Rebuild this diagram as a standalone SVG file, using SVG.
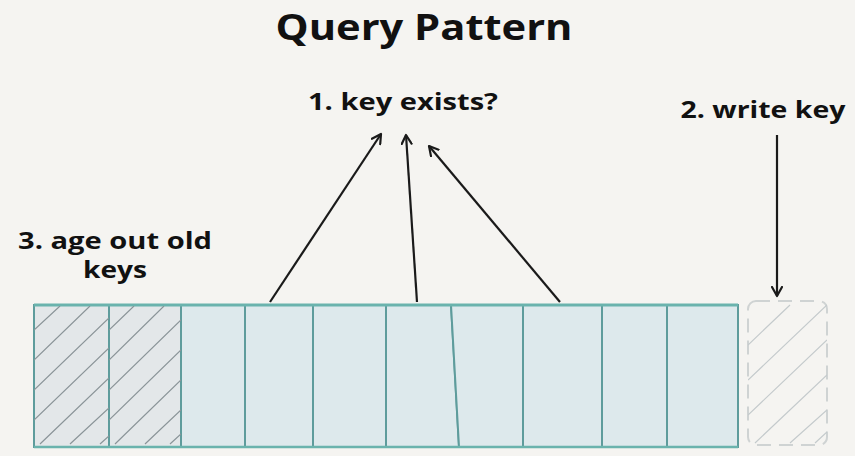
<svg xmlns="http://www.w3.org/2000/svg" width="855" height="456" viewBox="0 0 855 456">
<style>
.t{font-family:"Open Sans","Liberation Sans",sans-serif;font-weight:700;fill:#111}
.cell{fill:#dde9ec;stroke:#5e9c9c;stroke-width:2}
.old{fill:#e3e7e9;stroke:#5e9c9c;stroke-width:2}
.hatch{stroke:#8a9498;stroke-width:1.2;fill:none}
.arr{stroke:#1a1a1a;stroke-width:2.2;fill:none;marker-end:url(#ah)}
</style>
<defs>
<marker id="ah" viewBox="0 0 12 12" refX="10" refY="6" markerWidth="12" markerHeight="12" markerUnits="userSpaceOnUse" orient="auto">
<path d="M1,1 L10,6 L1,11" fill="none" stroke="#1a1a1a" stroke-width="2.2" stroke-linecap="round" stroke-linejoin="round"/>
</marker>
<clipPath id="c1"><rect x="34" y="306" width="75" height="140"/></clipPath>
<clipPath id="c2"><rect x="109" y="306" width="72" height="140"/></clipPath>
<clipPath id="c3"><rect x="748" y="301" width="79" height="144"/></clipPath>
</defs>
<rect width="855" height="456" fill="#f5f4f1"/>
<text class="t" x="424" y="40" font-size="36" text-anchor="middle" textLength="297" lengthAdjust="spacingAndGlyphs">Query Pattern</text>
<text class="t" x="403" y="110" font-size="23" text-anchor="middle" textLength="190" lengthAdjust="spacingAndGlyphs">1. key exists?</text>
<text class="t" x="763" y="118" font-size="23" text-anchor="middle" textLength="165" lengthAdjust="spacingAndGlyphs">2. write key</text>
<text class="t" x="115" y="249" font-size="23" text-anchor="middle" textLength="194" lengthAdjust="spacingAndGlyphs">3. age out old</text>
<text class="t" x="115" y="278" font-size="23" text-anchor="middle" textLength="64" lengthAdjust="spacingAndGlyphs">keys</text>
<g id="bar">
<rect class="old" x="34" y="305" width="75" height="142"/>
<rect class="old" x="109" y="305" width="72" height="142"/>
<rect class="cell" x="181" y="305" width="64" height="142"/>
<rect class="cell" x="245" y="305" width="68" height="142"/>
<rect class="cell" x="313" y="305" width="73" height="142"/>
<polygon class="cell" points="386,305 451,305 459,447 386,447"/>
<polygon class="cell" points="451,305 523,305 523,447 459,447"/>
<rect class="cell" x="523" y="305" width="79" height="142"/>
<rect class="cell" x="602" y="305" width="65" height="142"/>
<rect class="cell" x="667" y="305" width="71" height="142"/>
<line x1="34" y1="305" x2="738" y2="305" stroke="#6ab3ad" stroke-width="3"/>
<line x1="34" y1="447" x2="738" y2="447" stroke="#6ab3ad" stroke-width="2.5"/>
<g class="hatch" clip-path="url(#c1)">
<path d="M34,330 L60,306 M34,360 L90,306 M34,390 L109,318 M34,420 L109,348 M40,444 L109,378 M70,444 L109,408 M100,444 L109,436"/>
</g>
<g class="hatch" clip-path="url(#c2)">
<path d="M109,330 L134,306 M109,360 L164,306 M109,390 L181,320 M109,420 L181,350 M115,444 L181,380 M145,444 L181,410 M170,444 L181,434"/>
</g>
</g>
<g id="newkey">
<rect x="748" y="301" width="79" height="144" rx="8" fill="none" stroke="#cfd3d3" stroke-width="2" stroke-dasharray="14 8"/>
<g class="hatch" clip-path="url(#c3)" style="stroke:#c4cacc">
<path d="M748,345 L790,305 M748,380 L827,305 M748,415 L827,340 M755,443 L827,375 M790,443 L827,410 M815,443 L827,432"/>
</g>
</g>
<g id="connectors">
<line class="arr" x1="270" y1="302" x2="381" y2="134"/>
<line class="arr" x1="417" y1="302" x2="406" y2="135"/>
<line class="arr" x1="560" y1="302" x2="429" y2="146"/>
<line class="arr" x1="777" y1="135" x2="777" y2="296"/>
</g>
</svg>
